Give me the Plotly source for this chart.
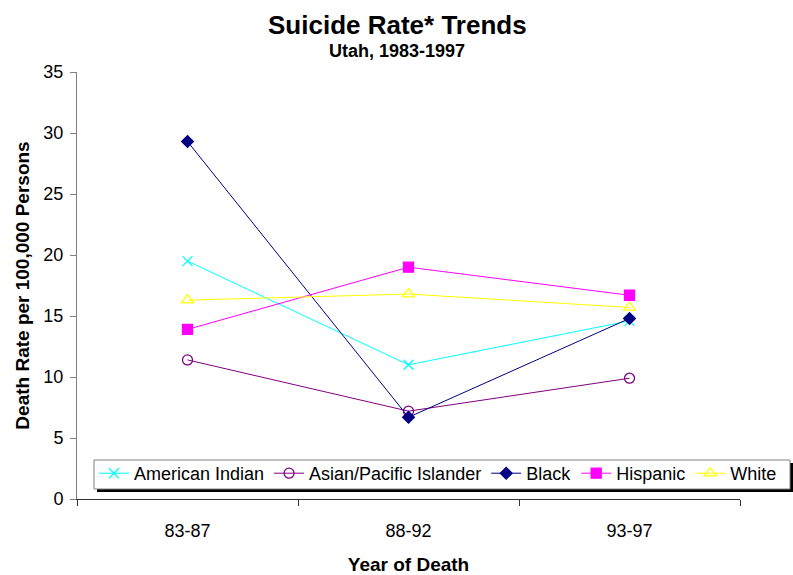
import plotly.graph_objects as go

periods = ["83-87", "88-92", "93-97"]
american_indian = [19.5, 11.0, 14.6]
asian_pacific = [11.4, 7.2, 9.9]
black = [29.3, 6.7, 14.8]
hispanic = [13.9, 19.0, 16.7]
white = [16.3, 16.8, 15.7]

series = [
    ("American Indian", american_indian, "#00FFFF", "x-thin-open", 10),
    ("Asian/Pacific Islander", asian_pacific, "#800080", "circle-open", 10),
    ("Black", black, "#000080", "diamond", 9),
    ("Hispanic", hispanic, "#FF00FF", "square", 10),
    ("White", white, "#FFFF00", "triangle-up-open", 11),
]

FONT = "Liberation Sans, Arial, sans-serif"
W, H = 793, 575
L, T = 77, 72
AXW, PH = 663, 427      # axis box in pixels
PW = W - L              # paper width (axis domain is narrower)


def px_x(x):
    return (x - L) / PW


def px_y(y):
    return (T + PH - y) / PH


fig = go.Figure()
for name, vals, color, sym, size in series:
    fig.add_trace(go.Scatter(
        x=periods, y=vals, name=name, mode="lines+markers",
        line=dict(color=color, width=1),
        marker=dict(symbol=sym, size=size, color=color,
                    line=dict(color=color, width=1.3)),
    ))

# legend frame with drop shadow (legend itself is drawn transparent on top)
fig.add_shape(type="rect", xref="paper", yref="paper",
              x0=px_x(97), x1=px_x(793), y0=px_y(492), y1=px_y(463),
              fillcolor="black", line=dict(width=0), layer="above")
fig.add_shape(type="rect", xref="paper", yref="paper",
              x0=px_x(94), x1=px_x(790), y0=px_y(489), y1=px_y(460),
              fillcolor="white", line=dict(color="#808080", width=1), layer="above")

fig.add_annotation(text="<b>Suicide Rate* Trends</b>", xref="paper", yref="paper",
                   x=px_x(397), y=px_y(25), xanchor="center", yanchor="middle",
                   showarrow=False, font=dict(size=26, family=FONT, color="black"))
fig.add_annotation(text="<b>Utah, 1983-1997</b>", xref="paper", yref="paper",
                   x=px_x(397), y=px_y(51), xanchor="center", yanchor="middle",
                   showarrow=False, font=dict(size=18, family=FONT, color="black"))

fig.update_layout(
    width=W, height=H,
    margin=dict(l=L, r=0, t=T, b=H - T - PH, autoexpand=False),
    paper_bgcolor="white", plot_bgcolor="white",
    font=dict(family=FONT, color="black", size=18),
    showlegend=True,
    legend=dict(
        orientation="h", x=px_x(94), xanchor="left",
        y=px_y(455), yanchor="top",
        bgcolor="rgba(0,0,0,0)", borderwidth=0,
        font=dict(size=18, family=FONT),
        itemwidth=30, tracegroupgap=0,
    ),
    xaxis=dict(
        type="category", tickson="boundaries", ticks="outside", ticklen=6,
        tickcolor="#333", showline=True, linecolor="#333", linewidth=1,
        showgrid=False, range=[-0.5, 2.5], domain=[0, AXW / PW],
        automargin=False,
        tickfont=dict(size=18), ticklabelstandoff=15,
        title=dict(text="<b>Year of Death</b>", font=dict(size=19), standoff=20),
    ),
    yaxis=dict(
        range=[0, 35], dtick=5, ticks="outside", ticklen=6,
        tickcolor="#808080", showline=True, linecolor="#808080", linewidth=1,
        showgrid=False, zeroline=False, tickfont=dict(size=18),
        ticklabelstandoff=3, automargin=False,
        title=dict(text="<b>Death Rate per 100,000 Persons</b>", font=dict(size=19), standoff=8),
    ),
)

fig.write_html("out.html")
